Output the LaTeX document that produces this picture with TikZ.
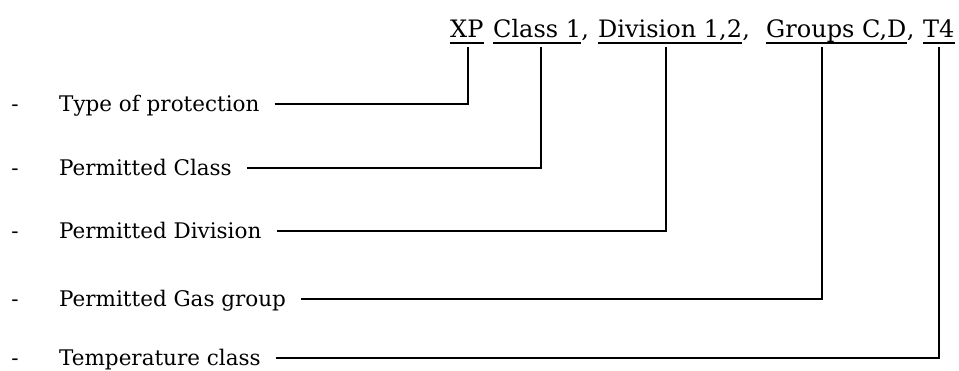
\documentclass[tikz,border=0pt]{standalone}
\usepackage{fontspec}
\setmainfont{DejaVu Serif}
\usetikzlibrary{positioning}

\begin{document}
\begin{tikzpicture}
[
	x				= 1pt,
	y				= -1pt,
	part/.style		=
	{
		inner sep	= 0pt,
		anchor		= base west,
		font		= \fontsize{24}{28}\selectfont
	},
	entry/.style	=
	{
		inner sep	= 0pt,
		anchor		= west,
		text height	= 16pt,
		text depth	= 0pt,
		font		= \fontsize{21.5}{26}\selectfont
	},
	link/.style		= {line width = 1.3pt, shorten <= 15pt},
]

\useasboundingbox (0,0) rectangle (959,371);

% marking string
\node [part] (xp)  at (450,38) {XP};
\node [part] (cls) at (493,38) {Class 1};
\node [part, at = (cls.base east)] {,};
\node [part] (div) at (598,38) {Division 1,2};
\node [part, at = (div.base east)] {,};
\node [part] (grp) at (766,38) {Groups C,D};
\node [part, at = (grp.base east)] {,};
\node [part] (tmp) at (923,38) {T4};

\foreach \n in {xp,cls,div,grp,tmp}
	\draw [line width = 1.2pt] ([yshift = -5pt]\n.base west) -- ([yshift = -5pt]\n.base east);

% meaning of each part
\foreach \y/\n/\t in
{
	104/ptyp/Type of protection,
	168/pcls/Permitted Class,
	231/pdiv/Permitted Division,
	299/pgas/Permitted Gas group,
	358/ptmp/Temperature class%
}
{
	\node [entry, anchor = center] at (15,\y) {-};
	\node [entry] (\n) at (59,\y) {\t};
}

\draw [link] (ptyp.east) -| ([xshift = 18pt, yshift = -9pt]xp.base west);
\draw [link] (pcls.east) -| ([xshift = 48pt, yshift = -9pt]cls.base west);
\draw [link] (pdiv.east) -| ([xshift = 68pt, yshift = -9pt]div.base west);
\draw [link] (pgas.east) -| ([xshift = 56pt, yshift = -9pt]grp.base west);
\draw [link] (ptmp.east) -| ([xshift = 16pt, yshift = -9pt]tmp.base west);

\end{tikzpicture}
\end{document}
